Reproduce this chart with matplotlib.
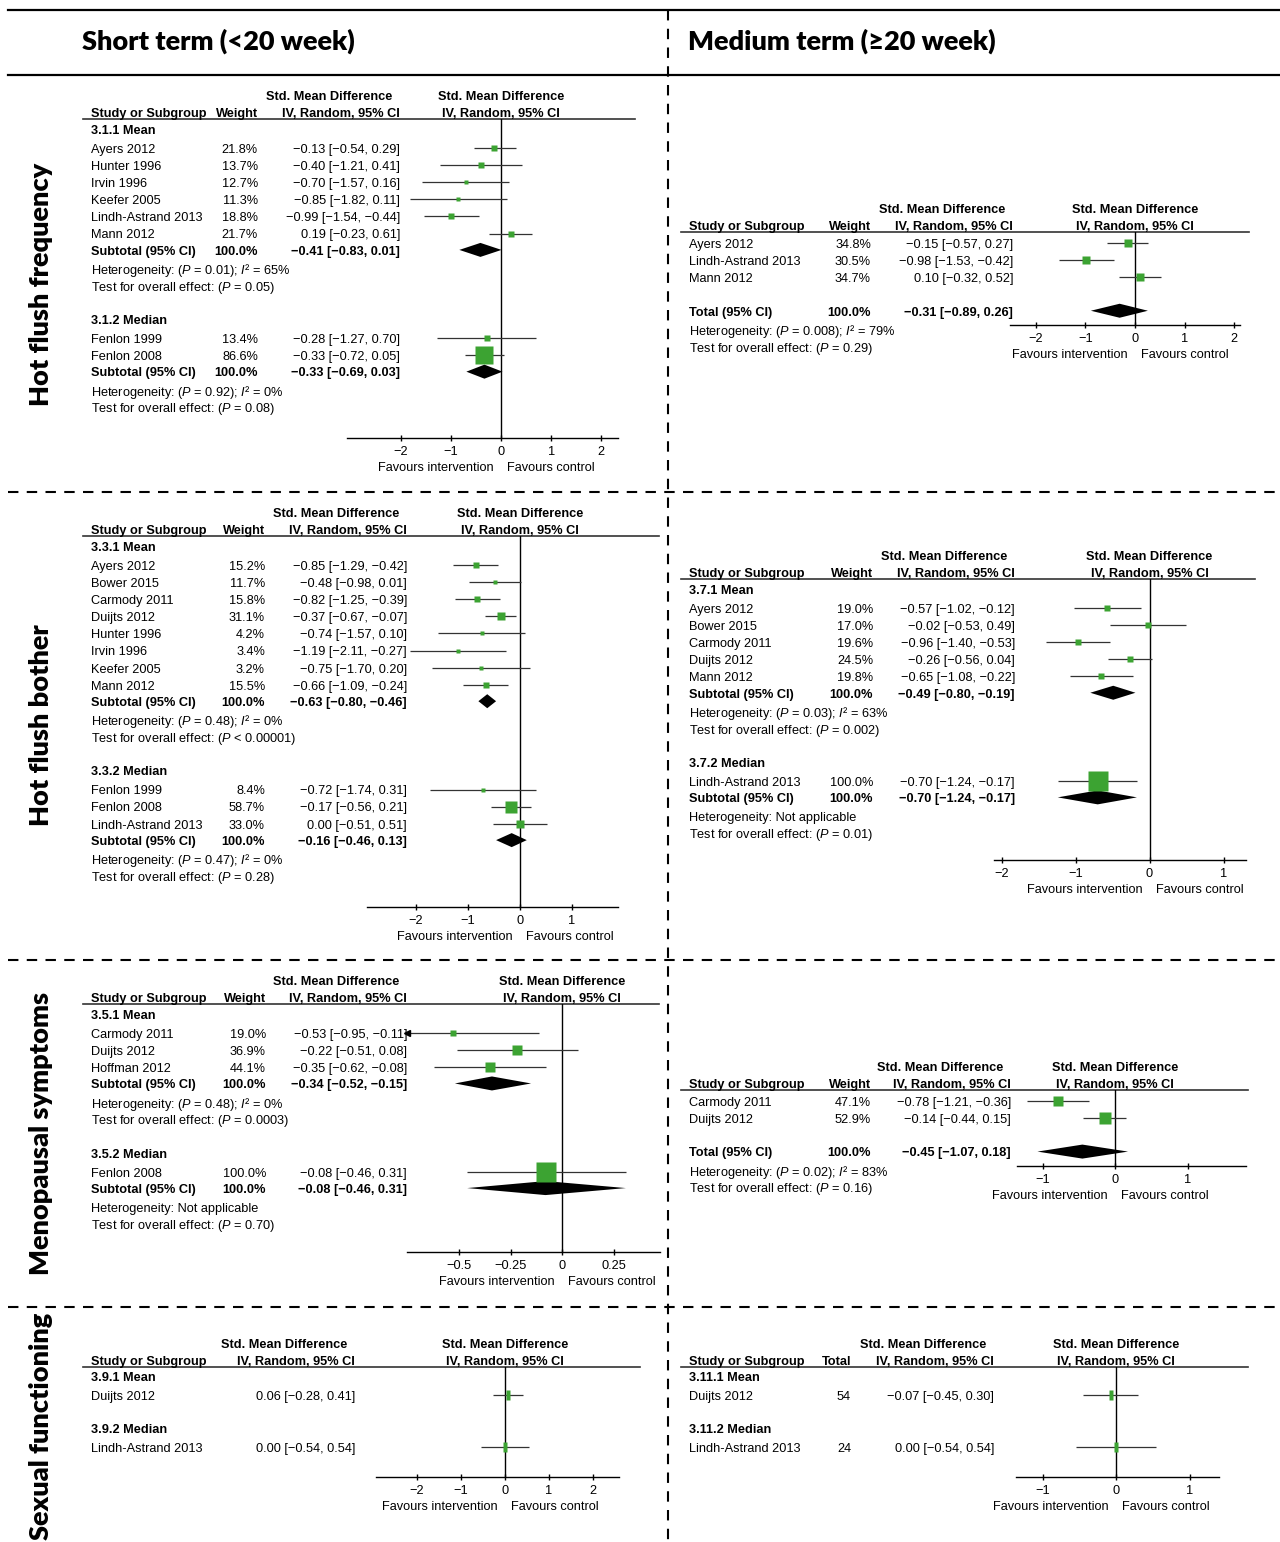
import matplotlib
matplotlib.use("Agg")
import matplotlib.pyplot as plt
from matplotlib import transforms
from matplotlib.path import Path

plt.rcParams['font.family'] = ['Liberation Sans', 'DejaVu Sans']
plt.rcParams['mathtext.fontset'] = 'custom'
plt.rcParams['mathtext.rm'] = 'Liberation Sans'
plt.rcParams['mathtext.it'] = 'Liberation Sans:italic'
plt.rcParams['mathtext.bf'] = 'Liberation Sans:bold'

# ---------------- data ----------------
# (study, weight % / total n, SMD, lower, upper)
freq_s_mean = [
    ("Ayers 2012", 21.8, -0.13, -0.54, 0.29),
    ("Hunter 1996", 13.7, -0.40, -1.21, 0.41),
    ("Irvin 1996", 12.7, -0.70, -1.57, 0.16),
    ("Keefer 2005", 11.3, -0.85, -1.82, 0.11),
    ("Lindh-Astrand 2013", 18.8, -0.99, -1.54, -0.44),
    ("Mann 2012", 21.7, 0.19, -0.23, 0.61),
]
freq_s_mean_pool = (-0.41, -0.83, 0.01)
freq_s_mean_het = ("0.01", "65")
freq_s_mean_p = "= 0.05"
freq_s_median = [
    ("Fenlon 1999", 13.4, -0.28, -1.27, 0.70),
    ("Fenlon 2008", 86.6, -0.33, -0.72, 0.05),
]
freq_s_median_pool = (-0.33, -0.69, 0.03)
freq_s_median_het = ("0.92", "0")
freq_s_median_p = "= 0.08"

freq_m = [
    ("Ayers 2012", 34.8, -0.15, -0.57, 0.27),
    ("Lindh-Astrand 2013", 30.5, -0.98, -1.53, -0.42),
    ("Mann 2012", 34.7, 0.10, -0.32, 0.52),
]
freq_m_pool = (-0.31, -0.89, 0.26)
freq_m_het = ("0.008", "79")
freq_m_p = "= 0.29"

both_s_mean = [
    ("Ayers 2012", 15.2, -0.85, -1.29, -0.42),
    ("Bower 2015", 11.7, -0.48, -0.98, 0.01),
    ("Carmody 2011", 15.8, -0.82, -1.25, -0.39),
    ("Duijts 2012", 31.1, -0.37, -0.67, -0.07),
    ("Hunter 1996", 4.2, -0.74, -1.57, 0.10),
    ("Irvin 1996", 3.4, -1.19, -2.11, -0.27),
    ("Keefer 2005", 3.2, -0.75, -1.70, 0.20),
    ("Mann 2012", 15.5, -0.66, -1.09, -0.24),
]
both_s_mean_pool = (-0.63, -0.80, -0.46)
both_s_mean_het = ("0.48", "0")
both_s_mean_p = "< 0.00001"
both_s_median = [
    ("Fenlon 1999", 8.4, -0.72, -1.74, 0.31),
    ("Fenlon 2008", 58.7, -0.17, -0.56, 0.21),
    ("Lindh-Astrand 2013", 33.0, 0.00, -0.51, 0.51),
]
both_s_median_pool = (-0.16, -0.46, 0.13)
both_s_median_het = ("0.47", "0")
both_s_median_p = "= 0.28"

both_m_mean = [
    ("Ayers 2012", 19.0, -0.57, -1.02, -0.12),
    ("Bower 2015", 17.0, -0.02, -0.53, 0.49),
    ("Carmody 2011", 19.6, -0.96, -1.40, -0.53),
    ("Duijts 2012", 24.5, -0.26, -0.56, 0.04),
    ("Mann 2012", 19.8, -0.65, -1.08, -0.22),
]
both_m_mean_pool = (-0.49, -0.80, -0.19)
both_m_mean_het = ("0.03", "63")
both_m_mean_p = "= 0.002"
both_m_median = [("Lindh-Astrand 2013", 100.0, -0.70, -1.24, -0.17)]
both_m_median_pool = (-0.70, -1.24, -0.17)
both_m_median_p = "= 0.01"

meno_s_mean = [
    ("Carmody 2011", 19.0, -0.53, -0.95, -0.11),
    ("Duijts 2012", 36.9, -0.22, -0.51, 0.08),
    ("Hoffman 2012", 44.1, -0.35, -0.62, -0.08),
]
meno_s_mean_pool = (-0.34, -0.52, -0.15)
meno_s_mean_het = ("0.48", "0")
meno_s_mean_p = "= 0.0003"
meno_s_median = [("Fenlon 2008", 100.0, -0.08, -0.46, 0.31)]
meno_s_median_pool = (-0.08, -0.46, 0.31)
meno_s_median_p = "= 0.70"

meno_m = [
    ("Carmody 2011", 47.1, -0.78, -1.21, -0.36),
    ("Duijts 2012", 52.9, -0.14, -0.44, 0.15),
]
meno_m_pool = (-0.45, -1.07, 0.18)
meno_m_het = ("0.02", "83")
meno_m_p = "= 0.16"

sex_s_mean = [("Duijts 2012", None, 0.06, -0.28, 0.41)]
sex_s_median = [("Lindh-Astrand 2013", None, 0.00, -0.54, 0.54)]
sex_m_mean = [("Duijts 2012", 54, -0.07, -0.45, 0.30)]
sex_m_median = [("Lindh-Astrand 2013", 24, 0.00, -0.54, 0.54)]

ticks_2 = [-2, -1, 0, 1, 2]
ticks_2_lab = ["\u22122", "\u22121", "0", "1", "2"]
ticks_21 = [-2, -1, 0, 1]
ticks_21_lab = ["\u22122", "\u22121", "0", "1"]
ticks_1 = [-1, 0, 1]
ticks_1_lab = ["\u22121", "0", "1"]
ticks_q = [-0.5, -0.25, 0, 0.25]
ticks_q_lab = ["\u22120.5", "\u22120.25", "0", "0.25"]

outcomes = ["Hot flush frequency", "Hot flush bother", "Menopausal symptoms", "Sexual functioning"]
terms = ["Short term (<20 week)", "Medium term (\u226520 week)"]

# ---------------- style ----------------
W, H = 1280, 1542
PITCH = 17.15
DY = 1.8  # text sits slightly below the mark centre
FS = 9.2
GREEN = "#3ca332"
LINE = "#333333"
BAR = Path([(-0.18, -0.5), (0.18, -0.5), (0.18, 0.5), (-0.18, 0.5), (-0.18, -0.5)])
BIG = dict(family=["Lato", "DejaVu Sans"], fontweight="heavy", fontsize=19.5)

fig = plt.figure(figsize=(12.8, 15.42), dpi=100)
bg = fig.add_axes([0, 0, 1, 1])
bg.set_xlim(0, W)
bg.set_ylim(H, 0)
bg.axis("off")

# frame
bg.plot([8, W], [10, 10], color="black", lw=1.6)
bg.plot([8, W], [75, 75], color="black", lw=1.6)
bg.plot([668, 668], [10, H], color="black", lw=1.5, ls=(0, (5, 4)))
for yy in [492, 960, 1307]:
    bg.plot([8, W], [yy, yy], color="black", lw=1.5, ls=(0, (5, 4)))
bg.text(82, 41, terms[0], va="center", ha="left", **BIG)
bg.text(688, 41, terms[1], va="center", ha="left", **BIG)
for lab, yc in zip(outcomes, [284, 725, 1133, 1426]):
    bg.text(41, yc, lab, rotation=90, va="center", ha="center", **BIG)


def fmt(v):
    return f"{v:.2f}".replace("-", "\u2212")


def ci_text(e, lo, hi):
    return f"{fmt(e)} [{fmt(lo)}, {fmt(hi)}]"


def het_text(h):
    if h is None:
        return "Heterogeneity: Not applicable"
    return "Heterogeneity: ($\\mathit{P}$ = " + h[0] + "); $\\mathit{I}$\u00b2 = " + h[1] + "%"


def forest(lay, blocks, ticks, ticklabels, col2="weight", bars=False):
    hl, first, base = lay["header"], lay["first"], lay["axis"]
    a0, a1 = lay["span"]
    zero, ppu = lay["zero"], lay["ppu"]
    x0, c2, cv = lay["cols"]

    ax = fig.add_axes([a0 / W, 1 - base / H, (a1 - a0) / W, (base - hl) / H])
    xmin, xmax = (a0 - zero) / ppu, (a1 - zero) / ppu
    ax.set_xlim(xmin, xmax)
    ax.set_ylim((base - first) / PITCH, (hl - first) / PITCH)
    ax.patch.set_visible(False)
    for s in ["left", "right", "top"]:
        ax.spines[s].set_visible(False)
    ax.spines["bottom"].set_linewidth(1.0)
    ax.set_yticks([])
    ax.set_xticks(ticks, ticklabels)
    ax.tick_params(axis="x", direction="inout", length=5, width=1, pad=3, labelsize=FS)
    ax.axvline(0, color="black", lw=1)
    ax.annotate("Favours intervention", xy=(0, 0), xycoords=("data", "axes fraction"),
                xytext=(-7, -30), textcoords="offset pixels", ha="right", va="center", fontsize=FS)
    ax.annotate("Favours control", xy=(0, 0), xycoords=("data", "axes fraction"),
                xytext=(6, -30), textcoords="offset pixels", ha="left", va="center", fontsize=FS)

    # column headers
    bg.plot(lay["line"], [hl, hl], color=LINE, lw=1.2)
    hb = dict(fontsize=FS, fontweight="bold", va="center")
    bg.text(x0, hl - 7 + DY, "Study or Subgroup", ha="left", **hb)
    if col2 == "weight":
        bg.text(c2, hl - 7 + DY, "Weight", ha="right", **hb)
    elif col2 == "total":
        bg.text(c2, hl - 7 + DY, "Total", ha="right", **hb)
    bg.text(cv - 8, hl - 24 + DY, "Std. Mean Difference", ha="right", **hb)
    bg.text(cv, hl - 7 + DY, "IV, Random, 95% CI", ha="right", **hb)
    bg.text(zero, hl - 24 + DY, "Std. Mean Difference", ha="center", **hb)
    bg.text(zero, hl - 7 + DY, "IV, Random, 95% CI", ha="center", **hb)

    tr = transforms.blended_transform_factory(bg.transData, ax.transData)
    kw = dict(transform=tr, fontsize=FS, va="center")
    dt = DY / PITCH
    y = 0.0
    prev = None
    for b in blocks:
        title = b.get("title")
        if title:
            if prev is not None:
                y += 1.95
            ax.text(x0, y + dt, title, fontweight="bold", ha="left", **kw)
            prev = "head"
        for name, w, e, lo, hi in b["studies"]:
            if prev == "head":
                y += 1.1
            elif prev is not None:
                y += 1.0
            prev = "study"
            ax.text(x0, y + dt, name, ha="left", **kw)
            if col2 == "weight":
                ax.text(c2, y + dt, f"{w:.1f}%", ha="right", **kw)
            elif col2 == "total":
                ax.text(c2, y + dt, str(w), ha="right", **kw)
            ax.text(cv, y + dt, ci_text(e, lo, hi), ha="right", **kw)
            left = max(lo, xmin)
            ax.plot([left, hi], [y, y], color=LINE, lw=0.9, solid_capstyle="butt")
            if lo < xmin:
                ax.plot([xmin], [y], marker="<", ms=4, color="black", clip_on=False)
            if bars:
                ax.plot([e], [y], marker=BAR, ms=7.2, color=GREEN, mec="none", ls="none")
            else:
                ax.plot([e], [y], marker="s", ms=(2.7 + 0.173 * w) * 0.72,
                        color=GREEN, mec="none", ls="none")
        if b.get("pool") is not None:
            e, lo, hi = b["pool"]
            y += 1.95 if not title else 0.95
            label = "Subtotal (95% CI)" if title else "Total (95% CI)"
            ax.text(x0, y + dt, label, fontweight="bold", ha="left", **kw)
            ax.text(c2, y + dt, "100.0%", fontweight="bold", ha="right", **kw)
            ax.text(cv, y + dt, ci_text(e, lo, hi), fontweight="bold", ha="right", **kw)
            h = 7.0 / PITCH
            ax.fill([lo, e, hi, e], [y, y - h, y, y + h], color="black", lw=0)
            y += 1.1
            ax.text(x0, y + dt, het_text(b.get("het")), ha="left", **kw)
            y += 1.0
            ax.text(x0, y + dt, "Test for overall effect: ($\\mathit{P}$ " + b["p"] + ")",
                    ha="left", **kw)
            prev = "test"
    return ax


# Hot flush frequency
forest(dict(header=119, first=129, axis=438, span=(347, 618), zero=501, ppu=50.2,
            cols=(91, 258, 400), line=[83, 635]),
       [dict(title="3.1.1 Mean", studies=freq_s_mean, pool=freq_s_mean_pool,
             het=freq_s_mean_het, p=freq_s_mean_p),
        dict(title="3.1.2 Median", studies=freq_s_median, pool=freq_s_median_pool,
             het=freq_s_median_het, p=freq_s_median_p)],
       ticks_2, ticks_2_lab)
forest(dict(header=232, first=243, axis=325, span=(1010, 1240), zero=1135, ppu=49.6,
            cols=(689, 871, 1013), line=[681, 1249]),
       [dict(studies=freq_m, pool=freq_m_pool, het=freq_m_het, p=freq_m_p)],
       ticks_2, ticks_2_lab)

# Hot flush bother
forest(dict(header=536, first=546, axis=907, span=(367, 618), zero=520, ppu=52,
            cols=(91, 265, 407), line=[83, 659]),
       [dict(title="3.3.1 Mean", studies=both_s_mean, pool=both_s_mean_pool,
             het=both_s_mean_het, p=both_s_mean_p),
        dict(title="3.3.2 Median", studies=both_s_median, pool=both_s_median_pool,
             het=both_s_median_het, p=both_s_median_p)],
       ticks_21, ticks_21_lab)
forest(dict(header=579, first=589, axis=860, span=(994, 1246), zero=1149.5, ppu=74,
            cols=(689, 873, 1015), line=[681, 1255]),
       [dict(title="3.7.1 Mean", studies=both_m_mean, pool=both_m_mean_pool,
             het=both_m_mean_het, p=both_m_mean_p),
        dict(title="3.7.2 Median", studies=both_m_median, pool=both_m_median_pool,
             het=None, p=both_m_median_p)],
       ticks_21, ticks_21_lab)

# Menopausal symptoms
forest(dict(header=1004, first=1014, axis=1252, span=(407, 660), zero=562, ppu=206,
            cols=(91, 266, 407), line=[83, 659]),
       [dict(title="3.5.1 Mean", studies=meno_s_mean, pool=meno_s_mean_pool,
             het=meno_s_mean_het, p=meno_s_mean_p),
        dict(title="3.5.2 Median", studies=meno_s_median, pool=meno_s_median_pool,
             het=None, p=meno_s_median_p)],
       ticks_q, ticks_q_lab)
forest(dict(header=1090, first=1101, axis=1166, span=(1017, 1246), zero=1115, ppu=72.5,
            cols=(689, 871, 1011), line=[681, 1248]),
       [dict(studies=meno_m, pool=meno_m_pool, het=meno_m_het, p=meno_m_p)],
       ticks_1, ticks_1_lab)

# Sexual functioning
forest(dict(header=1367, first=1376, axis=1477, span=(376, 619), zero=505, ppu=44,
            cols=(91, None, 355), line=[83, 640]),
       [dict(title="3.9.1 Mean", studies=sex_s_mean),
        dict(title="3.9.2 Median", studies=sex_s_median)],
       ticks_2, ticks_2_lab, col2=None, bars=True)
forest(dict(header=1367, first=1376, axis=1477, span=(1016, 1219), zero=1116, ppu=73.5,
            cols=(689, 851, 994), line=[681, 1248]),
       [dict(title="3.11.1 Mean", studies=sex_m_mean),
        dict(title="3.11.2 Median", studies=sex_m_median)],
       ticks_1, ticks_1_lab, col2="total", bars=True)

fig.savefig("out.png", dpi=100)
